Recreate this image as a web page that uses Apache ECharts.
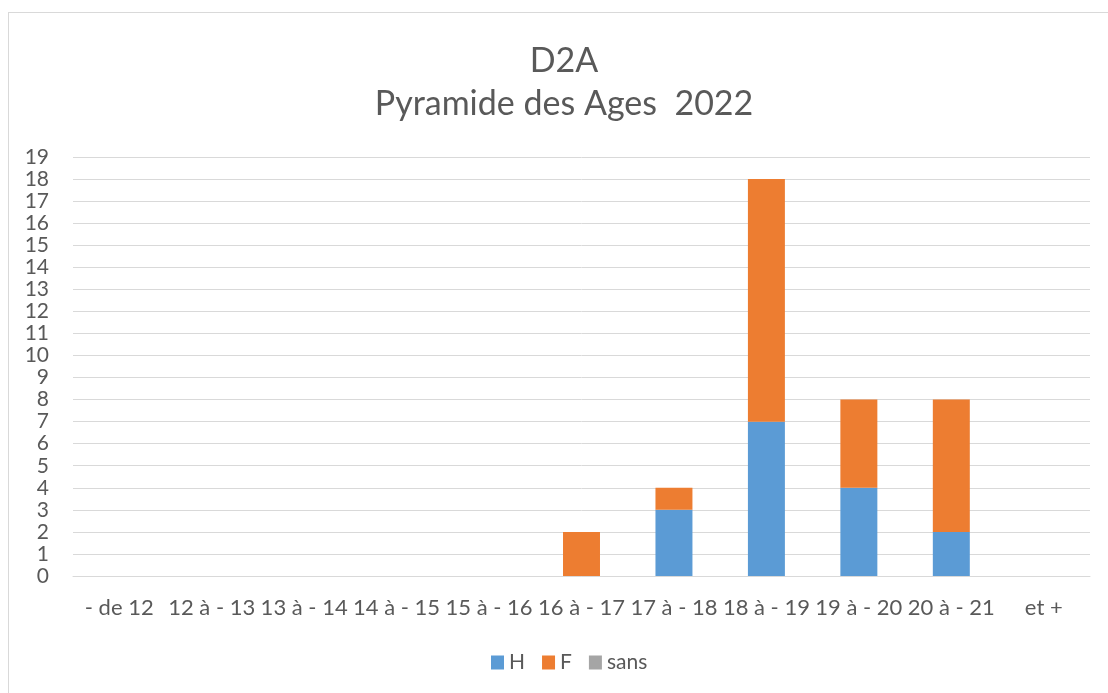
<!DOCTYPE html>
<html>
<head>
<meta charset="utf-8">
<script src="https://cdn.jsdelivr.net/npm/echarts@6/dist/echarts.min.js"></script>
<style>
  html, body { margin: 0; padding: 0; background: #fff; }
  #frame { position: absolute; left: 8px; top: 12px; width: 1120px; height: 700px;
           border: 1px solid #d9d9d9; box-sizing: border-box; }
  #chart { position: absolute; left: 0; top: 0; width: 1108px; height: 693px; }
</style>
</head>
<body>
<div id="frame"></div>
<div id="chart"></div>
<script>
const categories = ['- de 12', '12 à - 13', '13 à - 14', '14 à - 15', '15 à - 16', '16 à - 17',
  '17 à - 18', '18 à - 19', '19 à - 20', '20 à - 21', 'et +'];
const valuesH = [0, 0, 0, 0, 0, 0, 3, 7, 4, 2, 0];
const valuesF = [0, 0, 0, 0, 0, 2, 1, 11, 4, 6, 0];
const valuesSans = [0, 0, 0, 0, 0, 0, 0, 0, 0, 0, 0];

const font = 'Lato, Open Sans, sans-serif';
const chart = echarts.init(document.getElementById('chart'));

const barSeries = (name, data, color) => ({
  name,
  type: 'bar',
  stack: 'total',
  data,
  barWidth: '40%',
  itemStyle: { color },
  emphasis: { disabled: true }
});

chart.setOption({
  animation: false,
  textStyle: { fontFamily: font },
  title: {
    text: 'D2A\nPyramide des Ages  2022',
    left: 559,
    top: 35,
    textAlign: 'center',
    textStyle: { fontSize: 34, fontWeight: 'normal', color: '#595959', lineHeight: 43, fontFamily: font }
  },
  legend: {
    bottom: 15,
    left: 486,
    itemWidth: 13,
    itemHeight: 14,
    itemGap: 17,
    icon: 'rect',
    textStyle: { fontSize: 21, color: '#595959', fontFamily: font },
    data: ['H', 'F', 'sans']
  },
  grid: { left: 73, right: 18, top: 157, bottom: 117 },
  xAxis: {
    type: 'category',
    data: categories,
    axisLine: { lineStyle: { color: '#d9d9d9' } },
    axisTick: { show: false },
    axisLabel: { color: '#595959', fontSize: 22, margin: 21, interval: 0, fontFamily: font }
  },
  yAxis: {
    type: 'value',
    min: 0,
    max: 19,
    interval: 1,
    axisLine: { show: false },
    axisTick: { show: false },
    axisLabel: { color: '#595959', fontSize: 21, margin: 24, fontFamily: font },
    splitLine: { lineStyle: { color: '#d9d9d9', width: 1 } }
  },
  series: [
    barSeries('H', valuesH, '#5b9bd5'),
    barSeries('F', valuesF, '#ed7d31'),
    barSeries('sans', valuesSans, '#a5a5a5')
  ]
});
</script>
</body>
</html>
